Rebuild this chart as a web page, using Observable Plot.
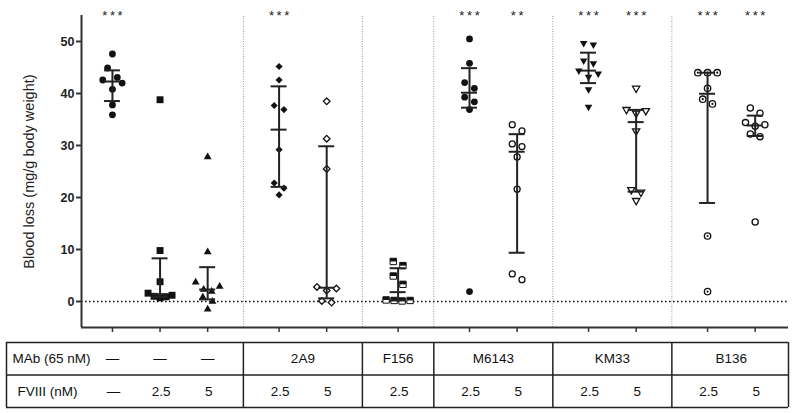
<!DOCTYPE html>
<html><head><meta charset="utf-8">
<script src="https://cdn.jsdelivr.net/npm/d3@7"></script>
<script src="https://cdn.jsdelivr.net/npm/@observablehq/plot@0.6"></script>
<style>
body{margin:0;background:#fff;font-family:"Liberation Sans",Arial,sans-serif}
svg{display:block;background:#fff}
</style>
</head><body><div id="chart"></div>
<script>
// ---------- data ----------
const panelOf = [0,0,0,1,1,2,3,3,4,4,5,5];
const mAbLabels = ["—","2A9","F156","M6143","KM33","B136"];
const fviiiLabels = ["—","2.5","5","2.5","5","2.5","2.5","5","2.5","5","2.5","5"];
const stars = ["***","","","***","","","***","**","***","***","***","***"];
const yTicks = [0,10,20,30,40,50];
const yLabel = "Blood loss (mg/g body weight)";
const rowTitles = ["MAb (65 nM)","FVIII (nM)"];

const none_0    = [47.6,44.9,43.1,42.6,42.0,40.8,37.8,35.9];
const none_25   = [38.8,9.8,3.8,1.6,1.2,1.0,0.9,0.7];
const none_5    = [27.8,9.5,3.7,2.9,2.3,1.9,0.8,0.0,-1.5];
const mab2A9_25 = [45.2,42.6,37.7,36.9,29.2,22.8,21.8,20.5];
const mab2A9_5  = [38.5,31.3,25.5,2.8,2.5,2.1,0.1,-0.2];
const F156_25   = [7.7,6.9,4.9,3.3,0.3,0.2,0.2,0.1];
const M6143_25  = [50.5,45.8,42.1,41.0,39.3,38.4,36.9,1.9];
const M6143_5   = [34.0,32.8,30.3,29.8,27.8,21.6,5.3,4.2];
const KM33_25   = [49.7,49.4,46.3,45.8,44.4,43.8,43.2,40.8,37.4];
const KM33_5    = [41.0,36.9,36.7,36.2,32.8,21.5,21.0,19.4];
const B136_25   = [44.0,44.0,44.0,41.0,38.9,38.0,12.6,1.9];
const B136_5    = [37.2,36.2,34.4,34.0,33.7,32.2,31.7,15.3];
const groups = [none_0,none_25,none_5,mab2A9_25,mab2A9_5,F156_25,M6143_25,M6143_5,KM33_25,KM33_5,B136_25,B136_5];

// ---------- layout ----------
const W = 800, ML = 81, MR = 12, MT = 15, H1 = 334, MB = 7;
const xDomain = [-0.65, 14.2];
const yDomain = [-5, 55];
const kx = (W - ML - MR) / (xDomain[1] - xDomain[0]);
const ky = (H1 - MB - MT) / (yDomain[1] - yDomain[0]);

// group positions: step 1 inside a panel, 1.5 between panels
const pos = [];
panelOf.forEach((pn, i) => pos.push(i === 0 ? 0 : pos[i-1] + (pn === panelOf[i-1] ? 1 : 1.5)));
const seps = [];
for (let i = 1; i < pos.length; i++) if (panelOf[i] !== panelOf[i-1]) seps.push((pos[i-1] + pos[i]) / 2);

// GraphPad-like horizontal spread of close values
function spread(vals) {
  const idx = d3.range(vals.length).sort((a, b) => vals[b] - vals[a]);
  const off = new Array(vals.length).fill(0);
  let i = 0;
  while (i < idx.length) {
    const start = vals[idx[i]];
    let j = i + 1;
    while (j < idx.length && (start - vals[idx[j]]) * ky <= 9.5) j++;
    const row = idx.slice(i, j), n = row.length;
    const s = n > 1 ? Math.min(9.7, 24 / (n - 1)) : 0;
    const slots = d3.range(n).map(k => (k - (n - 1) / 2) * s);
    let L = 0, R = n - 1;
    row.forEach((id, k) => { off[id] = (k % 2 === 0) ? slots[L++] : slots[R--]; });
    i = j;
  }
  return off;
}

// GraphPad quartiles ((n+1)p method)
function q(sorted, p) {
  const n = sorted.length, h = (n + 1) * p;
  const lo = Math.floor(h), f = h - lo;
  if (lo < 1) return sorted[0];
  if (lo >= n) return sorted[n-1];
  return sorted[lo-1] + f * (sorted[lo] - sorted[lo-1]);
}

const points = [];
const stats = [];
groups.forEach((vals, g) => {
  const off = spread(vals);
  vals.forEach((v, k) => points.push({g, v, x: pos[g] + off[k] / kx}));
  const s = vals.slice().sort((a, b) => a - b);
  stats.push({x: pos[g], q1: q(s, 0.25), med: q(s, 0.5), q3: q(s, 0.75)});
});

// custom symbols
const triDown = {draw(ctx, size) {
  const y = -Math.sqrt(size / (Math.sqrt(3) * 3)), s3 = Math.sqrt(3);
  ctx.moveTo(0, -y * 2); ctx.lineTo(-s3 * y, y); ctx.lineTo(s3 * y, y); ctx.closePath();
}};
const halfSquareTop = {draw(ctx, size) {
  const w = Math.sqrt(size); ctx.rect(-w / 2, -w / 2, w, w / 2);
}};

const ink = "#111";
const styles = [
  [{symbol: "circle", r: 3.4, fill: ink}],
  [{symbol: "square", r: 3.9, fill: ink}],
  [{symbol: "triangle", r: 2.9, fill: ink}],
  [{symbol: "diamond2", r: 3.2, fill: ink}],
  [{symbol: "diamond2", r: 3.0, fill: "#fff", stroke: ink, strokeWidth: 1.3}],
  [{symbol: "square", r: 3.6, fill: "#fff", stroke: ink, strokeWidth: 1}, {symbol: halfSquareTop, r: 3.6, fill: ink}],
  [{symbol: "circle", r: 3.4, fill: ink}],
  [{symbol: "circle", r: 3.0, fill: "#fff", stroke: ink, strokeWidth: 1.3}],
  [{symbol: triDown, r: 2.8, fill: ink}],
  [{symbol: triDown, r: 2.7, fill: "#fff", stroke: ink, strokeWidth: 1.3}],
  [{symbol: "circle", r: 3.2, fill: "#fff", stroke: ink, strokeWidth: 1.3}, {symbol: "circle", r: 1.1, fill: ink}],
  [{symbol: "circle", r: 3.1, fill: "#fff", stroke: ink, strokeWidth: 1.3}]
];
const dotMarks = [];
styles.forEach((layers, g) => layers.forEach(st =>
  dotMarks.push(Plot.dot(points.filter(p => p.g === g), {x: "x", y: "v", ...st}))));

const hw = 8 / kx;
const barStyle = {stroke: "#222", strokeWidth: 2};
const axStyle = {stroke: "#333", strokeWidth: 2};
const starData = stars.map((t, i) => ({x: pos[i], t: t.split("").join("\u2009")})).filter(d => d.t);

const font = "'Liberation Sans', Arial, sans-serif";
const chart = Plot.plot({
  width: W, height: H1, marginLeft: ML, marginRight: MR, marginTop: MT, marginBottom: MB,
  x: {domain: xDomain, axis: null},
  y: {domain: yDomain, axis: null},
  style: {fontFamily: font, color: "#222", background: "#fff"},
  marks: [
    Plot.ruleX(seps, {y1: yDomain[0], y2: yDomain[1], stroke: "#999", strokeWidth: 1, strokeDasharray: "1,1.5"}),
    Plot.ruleY([0], {x1: xDomain[0], x2: 14.18, stroke: "#111", strokeWidth: 1.6, strokeDasharray: "1.6,2.4"}),
    ...dotMarks,
    Plot.ruleX(stats, {x: "x", y1: "q1", y2: "q3", ...barStyle}),
    Plot.ruleY(stats, {x1: d => d.x - hw, x2: d => d.x + hw, y: "q1", ...barStyle}),
    Plot.ruleY(stats, {x1: d => d.x - hw, x2: d => d.x + hw, y: "q3", ...barStyle}),
    Plot.ruleY(stats, {x1: d => d.x - hw, x2: d => d.x + hw, y: "med", ...barStyle}),
    Plot.axisY({ticks: yTicks, tickSize: 5, tickPadding: 2, fontSize: 12.5, fontWeight: "bold", label: null, strokeWidth: 2, stroke: "#333"}),
    Plot.axisX({ticks: pos, tickSize: 5, tickFormat: () => "", label: null, strokeWidth: 1.5, stroke: "#333"}),
    Plot.ruleX([xDomain[0]], {y1: yDomain[0], y2: yDomain[1], ...axStyle}),
    Plot.ruleY([yDomain[0]], {x1: xDomain[0], x2: xDomain[1], ...axStyle}),
    Plot.text([yLabel], {frameAnchor: "left", textAnchor: "middle", lineAnchor: "middle", rotate: -90, dx: -52, fontSize: 14.5, fill: "#222"}),
    Plot.text(starData, {x: "x", text: "t", frameAnchor: "top", dy: -5, fontSize: 13, fill: "#222"})
  ]
});

// ---------- table ----------
const tableLeft = xDomain[0] - (ML - 6) / kx;
const panels = d3.range(mAbLabels.length);
const row0 = [];
panels.forEach(pn => {
  const members = pos.filter((_, i) => panelOf[i] === pn);
  if (mAbLabels[pn] === "—") members.forEach(x => row0.push({x, t: "—"}));
  else row0.push({x: (members[0] + members[members.length - 1]) / 2, t: mAbLabels[pn]});
});
const row1 = fviiiLabels.map((t, i) => ({x: pos[i], t}));
const lineStyle = {stroke: "#222", strokeWidth: 1.5};
const tfs = 13.5;
const table = Plot.plot({
  width: W, height: 78, marginLeft: ML, marginRight: MR, marginTop: 8, marginBottom: 5,
  x: {domain: xDomain, axis: null},
  y: {domain: [0, 2], range: [8, 73], axis: null},
  style: {fontFamily: font, color: "#111", background: "#fff"},
  marks: [
    Plot.ruleY([0, 1, 2], {x1: tableLeft, x2: xDomain[1], ...lineStyle}),
    Plot.ruleX([tableLeft, ...seps, xDomain[1]], {y1: 0, y2: 2, ...lineStyle}),
    Plot.text(row0, {x: "x", y: 0.5, text: "t", fontSize: tfs, fill: "#111"}),
    Plot.text(row1, {x: "x", y: 1.5, text: "t", fontSize: tfs, fill: "#111", dx: 1}),
    Plot.text([rowTitles[0]], {x: tableLeft, y: 0.5, dx: 6, textAnchor: "start", fontSize: tfs, fill: "#111"}),
    Plot.text([rowTitles[1]], {x: tableLeft, y: 1.5, dx: 11, textAnchor: "start", fontSize: tfs, fill: "#111"})
  ]
});

const root = document.getElementById("chart");
root.appendChild(chart);
root.appendChild(table);
</script>
</body></html>
